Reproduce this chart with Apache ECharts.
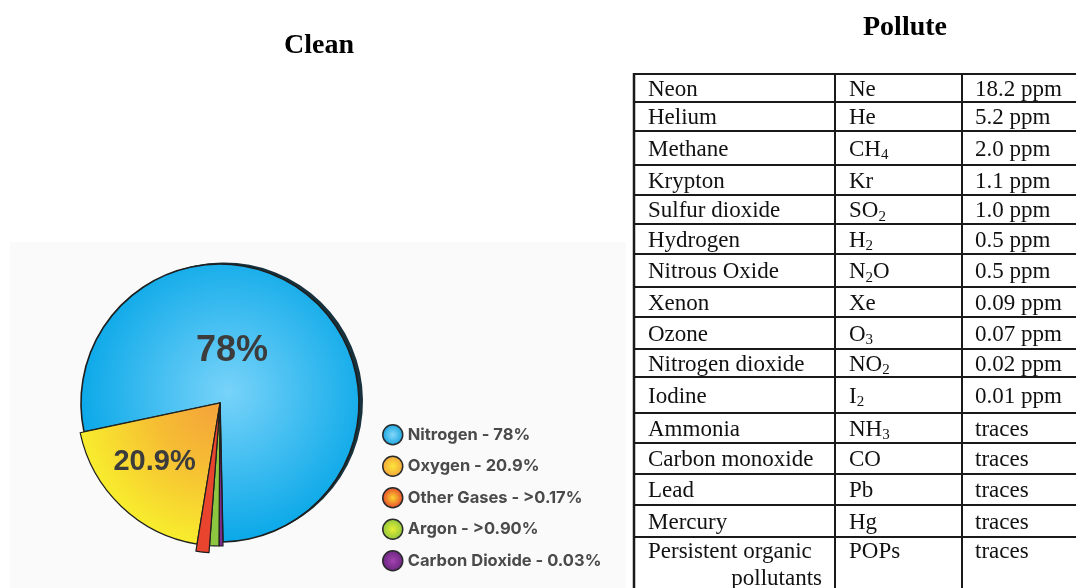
<!DOCTYPE html>
<html>
<head>
<meta charset="utf-8">
<script src="https://cdn.jsdelivr.net/npm/echarts@6/dist/echarts.min.js"></script>
<style>
  html, body { margin: 0; padding: 0; background: #ffffff; }
  #chart { width: 1076px; height: 588px; }
</style>
</head>
<body>
<div id="chart"></div>
<script>
// ---------- DATA ----------
// Pie slices in drawing order (clockwise)
const gasNames   = ['Nitrogen', 'Carbon Dioxide', 'Argon', 'Other Gases', 'Oxygen'];
const sliceShare = [78, 0.45, 1.05, 1.4, 19.1];           // share as drawn in the picture
const sliceLabels = { 'Nitrogen': '78%', 'Oxygen': '20.9%' };
// Legend order and texts
const legendOrder = ['Nitrogen', 'Oxygen', 'Other Gases', 'Argon', 'Carbon Dioxide'];
const legendTexts = ['Nitrogen - 78%', 'Oxygen - 20.9%', 'Other Gases - >0.17%', 'Argon - >0.90%', 'Carbon Dioxide - 0.03%'];

// Pollutant table
const pollNames = ['Neon', 'Helium', 'Methane', 'Krypton', 'Sulfur dioxide', 'Hydrogen', 'Nitrous Oxide',
  'Xenon', 'Ozone', 'Nitrogen dioxide', 'Iodine', 'Ammonia', 'Carbon monoxide', 'Lead', 'Mercury',
  'Persistent organic|pollutants'];
const pollFormulas = ['Ne', 'He', 'CH_4', 'Kr', 'SO_2', 'H_2', 'N_2O', 'Xe', 'O_3', 'NO_2', 'I_2', 'NH_3',
  'CO', 'Pb', 'Hg', 'POPs'];
const pollAmounts = ['18.2 ppm', '5.2 ppm', '2.0 ppm', '1.1 ppm', '1.0 ppm', '0.5 ppm', '0.5 ppm',
  '0.09 ppm', '0.07 ppm', '0.02 ppm', '0.01 ppm', 'traces', 'traces', 'traces', 'traces', 'traces'];

// ---------- STYLE / LAYOUT ----------
const CX = 220, CY = 403;
const sliceFills = {
  'Nitrogen': { type: 'radial', x: 228, y: 392, r: 150, global: true,
      colorStops: [{ offset: 0, color: '#78d3f9' }, { offset: 1, color: '#0aa8e8' }] },
  'Oxygen': { type: 'radial', x: CX, y: CY, r: 145, global: true,
      colorStops: [{ offset: 0, color: '#f4a23b' }, { offset: 0.45, color: '#f6bd33' }, { offset: 1, color: '#f8ee2d' }] },
  'Other Gases': '#e9452e',
  'Argon': '#8dc63f',
  'Carbon Dioxide': '#7c2b8f'
};
const legendIconColors = {
  'Nitrogen': ['#86d8fa', '#17a5df'],
  'Oxygen': ['#fbe53a', '#f3a33a'],
  'Other Gases': ['#fbd431', '#e6452b'],
  'Argon': ['#e7ef33', '#8cc540'],
  'Carbon Dioxide': ['#a243ae', '#6a2580']
};
const HIDDEN = { color: 'rgba(0,0,0,0)', borderWidth: 0 };

// mode: 'shadow' (fill + shadow, no border), 'border' (outline only), 'full' (fill + outline)
function pieSeries(radius, visible, mode, labelShift, z) {
  return {
    type: 'pie',
    center: [CX, CY],
    radius: radius,
    startAngle: 192,
    clockwise: true,
    avoidLabelOverlap: false,
    silent: true,
    z: z,
    emphasis: { disabled: true },
    labelLine: { show: false },
    labelLayout: { dx: labelShift[0], dy: labelShift[1] },
    data: gasNames.map((n, i) => {
      const vis = visible.indexOf(n) >= 0;
      let st = HIDDEN;
      if (vis && mode === 'shadow') st = { color: sliceFills[n], borderWidth: 0,
        shadowColor: '#17323d', shadowOffsetX: 4, shadowOffsetY: -1.5, shadowBlur: 0 };
      if (vis && mode === 'border') st = { color: 'rgba(0,0,0,0)', borderColor: '#1e1e1e', borderWidth: 1.6 };
      if (vis && mode === 'full') st = { color: sliceFills[n], borderColor: '#1e1e1e', borderWidth: 1.2 };
      const showLabel = vis && mode !== 'shadow' && !!sliceLabels[n];
      return {
        name: n,
        value: sliceShare[i],
        itemStyle: st,
        label: showLabel ? {
          show: true, position: 'inside', formatter: sliceLabels[n],
          fontFamily: 'Liberation Sans, Arial, sans-serif', fontWeight: 'bold',
          fontSize: n === 'Nitrogen' ? 36 : 29, color: '#3c3c3c'
        } : { show: false }
      };
    })
  };
}

// ---------- TABLE GRAPHICS ----------
const rowTops = [74, 102, 131, 165, 195, 224, 254, 287, 317, 349, 377, 413, 443, 474, 505, 537, 640];
const colX = [634, 835, 962];
const textX = [648, 849, 975];
const TFONT = '23px "Liberation Serif", "Times New Roman", serif';
const SFONT = '15px "Liberation Serif", "Times New Roman", serif';
const meas = document.createElement('canvas').getContext('2d');
function textW(t, f) { meas.font = f; return meas.measureText(t).width; }

const graphics = [];
// left panel background
graphics.push({ type: 'rect', shape: { x: 10, y: 242, width: 616, height: 360 }, style: { fill: '#fafafa' }, z: -10, silent: true });
// titles
const titleFont = 'bold 28px "Liberation Serif", "Times New Roman", serif';
graphics.push({ type: 'text', x: 319, y: 46, style: { text: 'Clean', font: titleFont, fill: '#000', textAlign: 'center', verticalAlign: 'middle', textVerticalAlign: 'middle' } });
graphics.push({ type: 'text', x: 905, y: 28, style: { text: 'Pollute', font: titleFont, fill: '#000', textAlign: 'center', verticalAlign: 'middle', textVerticalAlign: 'middle' } });

// table lines
for (let i = 0; i < rowTops.length - 1; i++) {
  graphics.push({ type: 'line', shape: { x1: colX[0], y1: rowTops[i], x2: 1080, y2: rowTops[i] }, style: { stroke: '#1a1a1a', lineWidth: 2 }, silent: true });
}
colX.forEach((x, k) => {
  graphics.push({ type: 'line', shape: { x1: x, y1: rowTops[0] - 1, x2: x, y2: 600 }, style: { stroke: '#1a1a1a', lineWidth: k === 0 ? 2.5 : 2 }, silent: true });
});

function addText(x, y, t, font, align) {
  graphics.push({ type: 'text', x: x, y: y, silent: true,
    style: { text: t, font: font, fill: '#111', textAlign: align || 'left', verticalAlign: 'middle', textVerticalAlign: 'middle' } });
}
function addFormula(x, y, f) {
  const parts = f.split(/(_\d)/).filter(s => s.length);
  let cx = x;
  parts.forEach(p => {
    if (p[0] === '_') {
      addText(cx, y + 6, p.slice(1), SFONT);
      cx += textW(p.slice(1), SFONT);
    } else {
      addText(cx, y, p, TFONT);
      cx += textW(p, TFONT);
    }
  });
}
for (let i = 0; i < pollNames.length; i++) {
  const top = rowTops[i], bot = rowTops[i + 1];
  const last = i === pollNames.length - 1;
  const mid = last ? top + 15 : (top + bot) / 2 + 1.5;
  const nm = pollNames[i].split('|');
  addText(textX[0], mid, nm[0], TFONT);
  if (nm[1]) addText(822, mid + 27, nm[1], TFONT, 'right');
  addFormula(textX[1], mid, pollFormulas[i]);
  addText(textX[2], mid, pollAmounts[i], TFONT);
}

// ---------- CHART ----------
const chart = echarts.init(document.getElementById('chart'), null, { renderer: 'canvas' });
chart.setOption({
  animation: false,
  backgroundColor: '#ffffff',
  legend: {
    orient: 'vertical',
    left: 382,
    top: 424,
    padding: 0,
    itemWidth: 20,
    itemHeight: 20,
    itemGap: 10,
    icon: 'circle',
    selectedMode: false,
    data: legendOrder.map(n => ({
      name: n,
      icon: 'circle',
      itemStyle: {
        color: { type: 'radial', x: 0.5, y: 0.5, r: 0.5,
          colorStops: [{ offset: 0, color: legendIconColors[n][0] }, { offset: 1, color: legendIconColors[n][1] }] },
        borderColor: '#2a2a2a', borderWidth: 1.5,
        shadowBlur: 0, shadowOffsetX: 0, shadowOffsetY: 0, shadowColor: 'rgba(0,0,0,0)'
      }
    })),
    formatter: name => legendTexts[legendOrder.indexOf(name)],
    textStyle: { fontFamily: 'Inter, Liberation Sans, Arial, sans-serif', fontSize: 16.5, fontWeight: 'bold', color: '#4a4a4a', lineHeight: 20 }
  },
  series: [
    pieSeries(139, ['Nitrogen'], 'shadow', [0, 0], 1),
    pieSeries(139, ['Nitrogen'], 'border', [-33, 5], 2),
    pieSeries(143, ['Oxygen', 'Argon', 'Carbon Dioxide'], 'full', [-14, 5], 3),
    pieSeries(150, ['Other Gases'], 'full', [0, 0], 4)
  ],
  graphic: graphics
});
</script>
</body>
</html>
